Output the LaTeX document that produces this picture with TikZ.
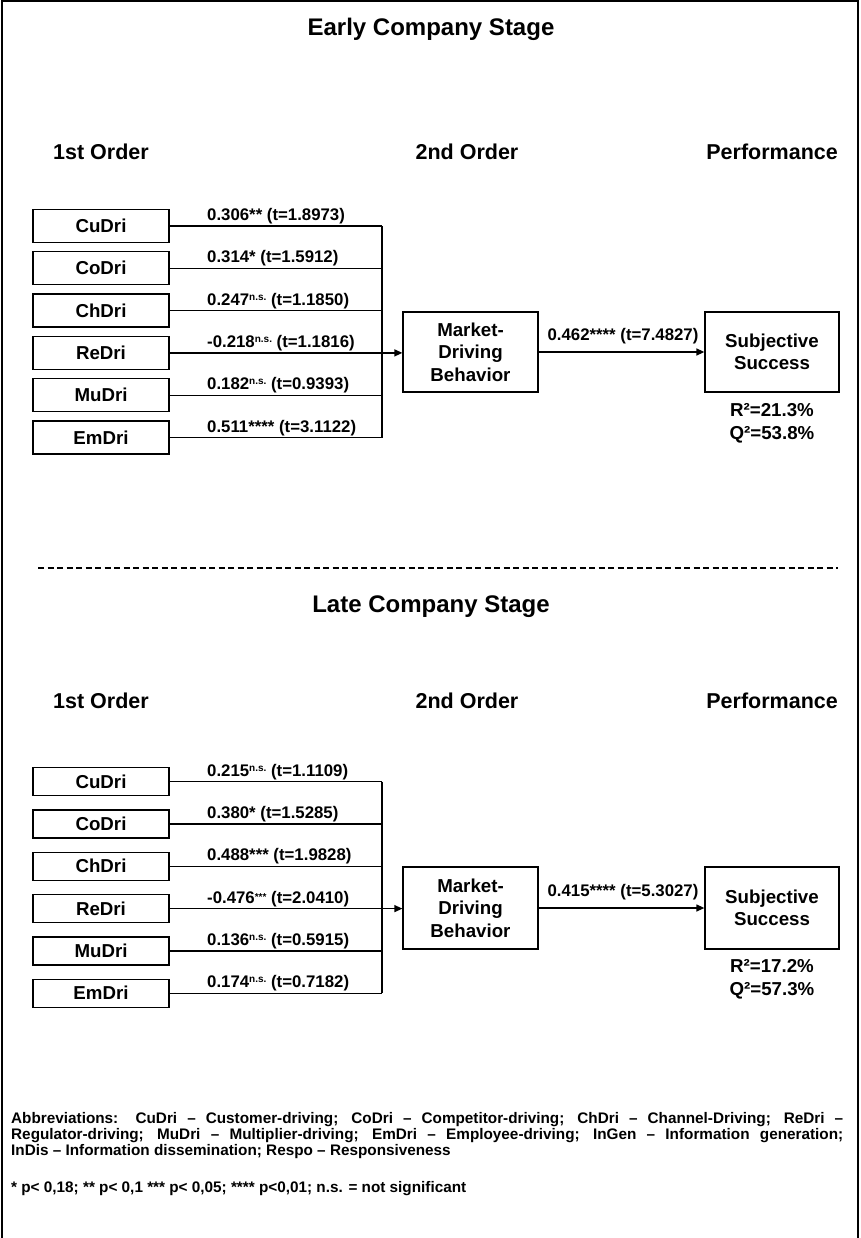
\documentclass[tikz,border=0pt]{standalone}
\usepackage{fontspec}
\setmainfont{Liberation Sans}
\usetikzlibrary{arrows.meta}
\newcommand\myns{\raisebox{0.55ex}{\fontsize{10}{10}\selectfont n.s.}}
\newcommand\mystars{\raisebox{0.3ex}{\fontsize{10}{10}\selectfont ***}}
\newcommand\fullline[1]{\makebox[832pt][s]{#1}}
\begin{document}
\begin{tikzpicture}[x=1pt,y=-1pt,
  every node/.style={font=\bfseries},
  drv/.style={draw, line width=1.3pt, minimum width=136pt, inner sep=0pt,
    font=\bfseries\fontsize{18.7}{22}\selectfont},
  bigbox/.style={draw, line width=1.3pt, minimum width=135pt, inner sep=0pt, align=center,
    font=\bfseries\fontsize{18.7}{22.5}\selectfont},
  elab/.style={inner sep=0pt, font=\bfseries\fontsize{16.8}{20}\selectfont},
  stat/.style={inner sep=0pt, font=\bfseries\fontsize{18.7}{22}\selectfont},
  ttl/.style={inner sep=0pt, font=\bfseries\fontsize{24}{28}\selectfont},
  hdr/.style={inner sep=0pt, font=\bfseries\fontsize{21.5}{25}\selectfont},
  conn/.style={line width=1.3pt},
  arr/.style={line width=1.3pt, -{Triangle[length=8pt,width=7pt]}},
  sep/.style={line width=1.3pt, dash pattern=on 6pt off 3.5pt},
  foot/.style={inner sep=0pt, font=\bfseries\fontsize{15.3}{16}\selectfont}
]
\useasboundingbox (0,0) rectangle (860,1238);
\fill[white] (0,0) rectangle (860,1238);
% frame
\draw[line width=1.5pt] (2,1238) -- (2,1) -- (858,1) -- (858,1238);

% ================= Early stage =================
\node[ttl, anchor=base] (tE) at (431,36) {Early Company Stage};
\node[hdr, anchor=base west] (h1E) at (53,160) {1st Order};
\node[hdr, anchor=base] (h2E) at (467,160) {2nd Order};
\node[hdr, anchor=base east] (h3E) at (838,160) {Performance};

\node[bigbox, minimum height=80pt] (mdE) at (470.5,352) {Market-\\Driving\\Behavior};
\node[bigbox, minimum width=134pt, minimum height=80pt] (ssE) at (772,352) {Subjective\\Success};

\foreach \nm/\txt/\yy/\lab in {
  cuE/CuDri/226/{0.306** (t=1.8973)},
  coE/CoDri/268.3/{0.314* (t=1.5912)},
  chE/ChDri/310.6/{0.247\myns{} (t=1.1850)},
  reE/ReDri/352.9/{-0.218\myns{} (t=1.1816)},
  muE/MuDri/395.2/{0.182\myns{} (t=0.9393)},
  emE/EmDri/437.5/{0.511**** (t=3.1122)}}
{
  \node[drv, minimum height=33pt] (\nm) at (101,\yy) {\txt};
  \coordinate (\nm j) at (382,\yy);
  \draw[conn] (\nm.east) -- (\nm j);
  \node[elab, anchor=base west] (\nm l) at (207,\yy-5.5) {\lab};
}
\draw[conn] (cuEj) -- (emEj);
\draw[arr] (reE.east) -- (reE.east -| mdE.west);
\draw[arr] (mdE.east) -- (ssE.west);
\node[elab, anchor=base] (pE) at (623,340) {0.462**** (t=7.4827)};
\node[stat, anchor=base] (rE) at (772,416) {R²=21.3\%};
\node[stat, anchor=base] (qE) at (772,439) {Q²=53.8\%};

% separator
\coordinate (sepL) at (38,568);
\coordinate (sepR) at (838,568);
\draw[sep] (sepL) -- (sepR);

% ================= Late stage =================
\node[ttl, anchor=base] (tL) at (431,612) {Late Company Stage};
\node[hdr, anchor=base west] (h1L) at (53,708) {1st Order};
\node[hdr, anchor=base] (h2L) at (467,708) {2nd Order};
\node[hdr, anchor=base east] (h3L) at (838,708) {Performance};

\node[bigbox, minimum height=82pt] (mdL) at (470.5,908) {Market-\\Driving\\Behavior};
\node[bigbox, minimum width=134pt, minimum height=82pt] (ssL) at (772,908) {Subjective\\Success};

\foreach \nm/\txt/\yy/\lab in {
  cuL/CuDri/781.7/{0.215\myns{} (t=1.1109)},
  coL/CoDri/824/{0.380* (t=1.5285)},
  chL/ChDri/866.3/{0.488*** (t=1.9828)},
  reL/ReDri/908.6/{-0.476\mystars{} (t=2.0410)},
  muL/MuDri/950.9/{0.136\myns{} (t=0.5915)},
  emL/EmDri/993.2/{0.174\myns{} (t=0.7182)}}
{
  \node[drv, minimum height=28pt] (\nm) at (101,\yy) {\txt};
  \coordinate (\nm j) at (382,\yy);
  \draw[conn] (\nm.east) -- (\nm j);
  \node[elab, anchor=base west] (\nm l) at (207,\yy-5.5) {\lab};
}
\draw[conn] (cuLj) -- (emLj);
\draw[arr] (reL.east) -- (reL.east -| mdL.west);
\draw[arr] (mdL.east) -- (ssL.west);
\node[elab, anchor=base] (pL) at (623,896) {0.415**** (t=5.3027)};
\node[stat, anchor=base] (rL) at (772,972) {R²=17.2\%};
\node[stat, anchor=base] (qL) at (772,995) {Q²=57.3\%};

% ================= Footer =================
\node[foot, anchor=north west, align=left] (abbr) at (11,1112)
  {\fullline{Abbreviations: CuDri – Customer-driving; CoDri – Competitor-driving; ChDri – Channel-Driving; ReDri –}\\
   \fullline{Regulator-driving; MuDri – Multiplier-driving; EmDri – Employee-driving; InGen – Information generation;}\\
   InDis – Information dissemination; Respo – Responsiveness};
\node[foot, anchor=base west] (sig) at (11,1192)
  {* p< 0,18; ** p< 0,1 *** p< 0,05; **** p<0,01; n.s. = not significant};
\end{tikzpicture}
\end{document}
